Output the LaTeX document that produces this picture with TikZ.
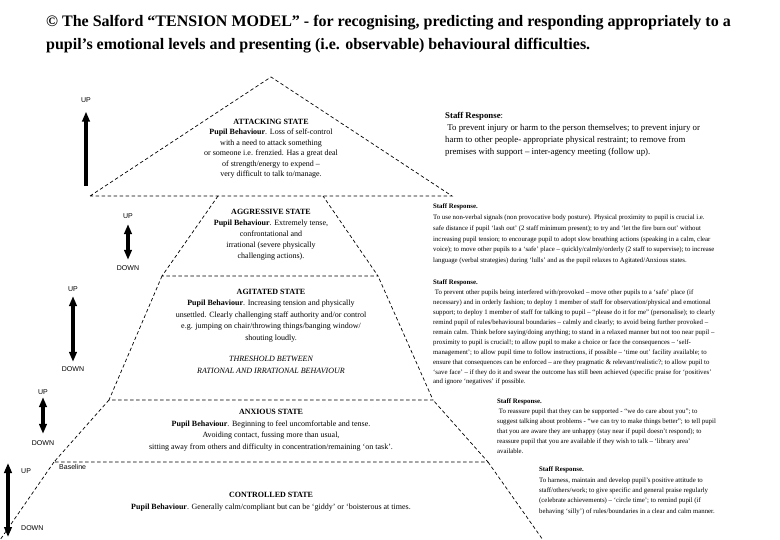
\documentclass[tikz,border=0pt]{standalone}
\usepackage{fontspec}
\setmainfont{Liberation Serif}
\setsansfont{Liberation Sans}
\usetikzlibrary{arrows.meta}

\begin{document}
\begin{tikzpicture}[x=1pt,y=-1pt,
		layer line/.style={dash pattern=on 3.5pt off 2.5pt,line width=0.7pt},
		state text/.style={align=center,inner sep=0pt,anchor=north,font=\fontsize{8}{10.5}\selectfont},
		staff text/.style={align=left,inner sep=0pt,anchor=north west,font=\fontsize{6.8}{10}\selectfont},
		level label/.style={font=\sffamily\fontsize{7}{8}\selectfont,inner sep=1pt},
		up arrow/.style={line width=3.5pt,-{Triangle[length=10pt,width=7.5pt]}},
		updown arrow/.style={line width=3.5pt,{Triangle[length=10pt,width=7.5pt]}-{Triangle[length=10pt,width=7.5pt]}}]
	\useasboundingbox (0,0) rectangle (780,540);

	\node[inner sep=0pt,anchor=north west,align=left,font=\bfseries\fontsize{16}{23}\selectfont] (title) at (46,15)
		{© The Salford “TENSION MODEL” - for recognising, predicting and responding appropriately to a\\
		 pupil’s emotional levels and presenting (i.e. observable) behavioural difficulties.};

	\draw[layer line] (90,196) -- (271,77) -- (452,196) -- cycle;
	\draw[layer line] (218,196) -- (162,276) -- (378,276) -- (323,196);
	\draw[layer line] (162,276) -- (109,400) -- (433,400) -- (378,276);
	\draw[layer line] (109,400) -- (54,462) -- (488,462) -- (433,400);
	\draw[layer line] (54,462) -- (0,540);
	\draw[layer line] (488,462) -- (543,540);

	\node[state text] (attacking) at (271,119) {\textbf{ATTACKING STATE}\\
		\textbf{Pupil Behaviour}. Loss of self-control\\
		with a need to attack something\\
		or someone i.e. frenzied. Has a great deal\\
		of strength/energy to expend –\\
		very difficult to talk to/manage.};
	\node[state text,font=\fontsize{8}{11}\selectfont] (aggressive) at (271,209) {\textbf{AGGRESSIVE STATE}\\
		\textbf{Pupil Behaviour}. Extremely tense,\\
		confrontational and\\
		irrational (severe physically\\
		challenging actions).};
	\node[state text,font=\fontsize{8}{11.5}\selectfont] (agitated) at (271,289) {\textbf{AGITATED STATE}\\
		\textbf{Pupil Behaviour}. Increasing tension and physically\\
		unsettled. Clearly challenging staff authority and/or control\\
		e.g. jumping on chair/throwing things/banging window/\\
		shouting loudly.};
	\node[state text,font=\itshape\fontsize{8}{12}\selectfont] (threshold) at (271,356) {THRESHOLD BETWEEN\\
		RATIONAL AND IRRATIONAL BEHAVIOUR};
	\node[state text,font=\fontsize{8}{11.7}\selectfont] (anxious) at (271,409) {\textbf{ANXIOUS STATE}\\
		\textbf{Pupil Behaviour}. Beginning to feel uncomfortable and tense.\\
		Avoiding contact, fussing more than usual,\\
		sitting away from others and difficulty in concentration/remaining ‘on task’.};
	\node[state text,font=\fontsize{8}{12}\selectfont] (controlled) at (271,492) {\textbf{CONTROLLED STATE}\\
		\textbf{Pupil Behaviour}. Generally calm/compliant but can be ‘giddy’ or ‘boisterous at times.};

	\node[staff text,font=\fontsize{8.8}{12}\selectfont] (staff attacking) at (445,112) {\textbf{Staff Response}:\\
		\ To prevent injury or harm to the person themselves; to prevent injury or\\
		harm to other people- appropriate physical restraint; to remove from\\
		premises with support – inter-agency meeting (follow up).};
	\node[staff text,font=\fontsize{6.8}{10.7}\selectfont] (staff aggressive) at (433,204) {\textbf{Staff Response.}\\
		To use non-verbal signals (non provocative body posture). Physical proximity to pupil is crucial i.e.\\
		safe distance if pupil ‘lash out’ (2 staff minimum present); to try and ‘let the fire burn out’ without\\
		increasing pupil tension; to encourage pupil to adopt slow breathing actions (speaking in a calm, clear\\
		voice); to move other pupils to a ‘safe’ place – quickly/calmly/orderly (2 staff to supervise); to increase\\
		language (verbal strategies) during ‘lulls’ and as the pupil relaxes to Agitated/Anxious states.};
	\node[staff text,font=\fontsize{6.8}{9.9}\selectfont] (staff agitated) at (433,280) {\textbf{Staff Response.}\\
		\ To prevent other pupils being interfered with/provoked – move other pupils to a ‘safe’ place (if\\
		necessary) and in orderly fashion; to deploy 1 member of staff for observation/physical and emotional\\
		support; to deploy 1 member of staff for talking to pupil – “please do it for me” (personalise); to clearly\\
		remind pupil of rules/behavioural boundaries – calmly and clearly; to avoid being further provoked –\\
		remain calm. Think before saying/doing anything; to stand in a relaxed manner but not too near pupil –\\
		proximity to pupil is crucial!; to allow pupil to make a choice or face the consequences – ‘self-\\
		management’; to allow pupil time to follow instructions, if possible – ‘time out’ facility available; to\\
		ensure that consequences can be enforced – are they pragmatic \& relevant/realistic?; to allow pupil to\\
		‘save face’ – if they do it and swear the outcome has still been achieved (specific praise for ‘positives’\\
		and ignore ‘negatives’ if possible.};
	\node[staff text] (staff anxious) at (497,399) {\textbf{Staff Response.}\\
		\ To reassure pupil that they can be supported - “we do care about you”; to\\
		suggest talking about problems - “we can try to make things better”; to tell pupil\\
		that you are aware they are unhappy (stay near if pupil doesn’t respond); to\\
		reassure pupil that you are available if they wish to talk – ‘library area’\\
		available.};
	\node[staff text,font=\fontsize{6.8}{10.3}\selectfont] (staff controlled) at (539,467) {\textbf{Staff Response.}\\
		To harness, maintain and develop pupil’s positive attitude to\\
		staff/others/work; to give specific and general praise regularly\\
		(celebrate achievements) – ‘circle time’; to remind pupil (if\\
		behaving ‘silly’) of rules/boundaries in a clear and calm manner.};

	\node[level label] (up1) at (86,100) {UP};
	\coordinate (foot1) at (86,186);
	\draw[up arrow,shorten >=8pt] (foot1) -- (up1);

	\node[level label] (up2) at (128,216) {UP};
	\node[level label] (down2) at (128,268) {DOWN};
	\draw[updown arrow,shorten <=4.5pt,shorten >=4.5pt] (up2) -- (down2);

	\node[level label] (up3) at (73,289) {UP};
	\node[level label] (down3) at (73,369) {DOWN};
	\draw[updown arrow,shorten <=3.5pt,shorten >=3.5pt] (up3) -- (down3);

	\node[level label] (up4) at (43,392) {UP};
	\node[level label] (down4) at (43,443) {DOWN};
	\draw[updown arrow,shorten <=1.5pt,shorten >=5.5pt] (up4) -- (down4);

	\node[level label,anchor=west] (up5) at (20,471) {UP};
	\node[level label,anchor=west] (down5) at (20,528) {DOWN};
	\coordinate (top5) at (8,463);
	\coordinate (foot5) at (8,537);
	\draw[updown arrow] (top5) -- (foot5);

	\node[level label,anchor=west] (baseline) at (58,467) {Baseline};
\end{tikzpicture}
\end{document}
